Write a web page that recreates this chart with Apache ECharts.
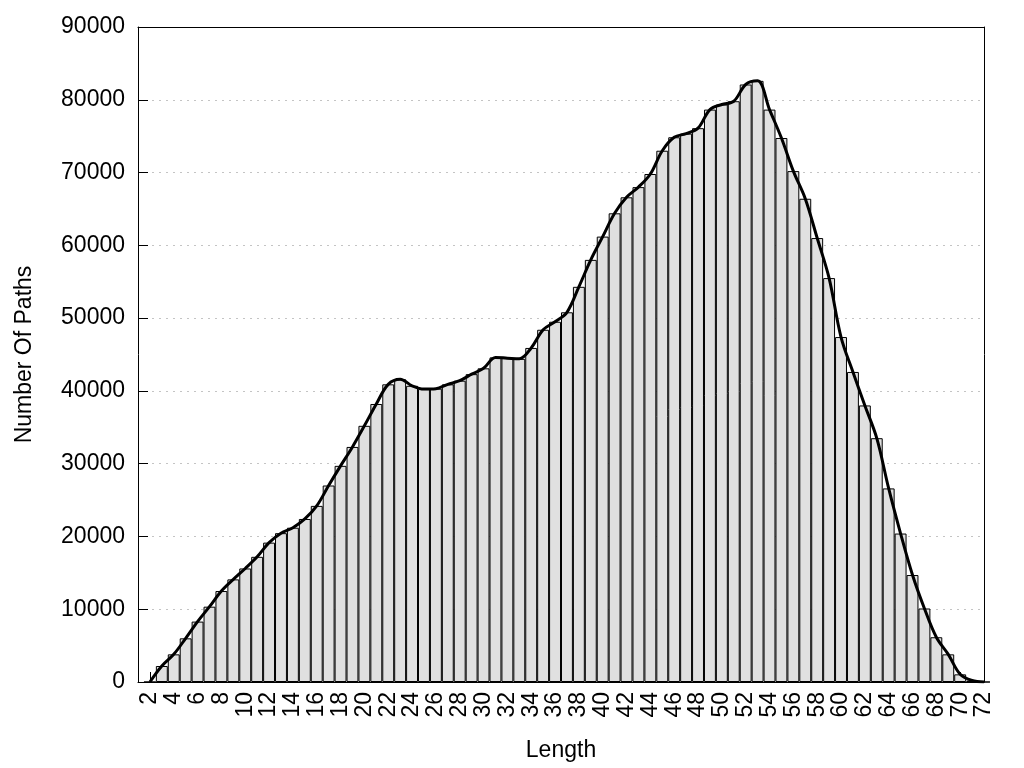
<!DOCTYPE html>
<html>
<head>
<meta charset="utf-8">
<script src="https://cdn.jsdelivr.net/npm/echarts@6/dist/echarts.min.js"></script>
<style>
  html, body { margin: 0; padding: 0; background: #fff; }
  #chart { width: 1024px; height: 768px; }
</style>
</head>
<body>
<div id="chart"></div>
<script>
// path lengths (slot 1 is empty so that 2 sits one step in from the frame)
var lengths = [
  '1', '2', '3', '4', '5', '6', '7', '8', '9', '10', '11', '12',
  '13', '14', '15', '16', '17', '18', '19', '20', '21', '22', '23', '24',
  '25', '26', '27', '28', '29', '30', '31', '32', '33', '34', '35', '36',
  '37', '38', '39', '40', '41', '42', '43', '44', '45', '46', '47', '48',
  '49', '50', '51', '52', '53', '54', '55', '56', '57', '58', '59', '60',
  '61', '62', '63', '64', '65', '66', '67', '68', '69', '70', '71', '72'
]
var pathCounts = [
  null, 0, 2200, 3800, 6000, 8300, 10350, 12500, 14100, 15600, 17200, 19150,
  20450, 21200, 22400, 24200, 27000, 29700, 32300, 35200, 38200, 40900, 41600, 40700,
  40250, 40300, 40900, 41400, 42300, 43100, 44600, 44500, 44400, 45900, 48400, 49500,
  50800, 54300, 58000, 61200, 64400, 66600, 68000, 69800, 73000, 74850, 75350, 76100,
  78650, 79350, 79800, 82100, 82600, 78650, 74750, 70200, 66400, 61000, 55500, 47400,
  42600, 38000, 33500, 26600, 20400, 14700, 10100, 6150, 3800, 1050, 200, 0
]
var yTicks = { min: 0, max: 90000, step: 10000 }

var FONT = "'Liberation Sans', Arial, sans-serif"

function evenOnly(idx, val) {
  return Number(val) % 2 === 0
}

var chart = echarts.init(document.getElementById('chart'))
var options = {
  animation: false,
  backgroundColor: '#fff',
  textStyle: { fontFamily: FONT },
  grid: {
    left: 138,
    right: 40,
    top: 27,
    bottom: 86
  },
  xAxis: [
    {
      type: 'category',
      data: lengths,
      boundaryGap: false,
      name: 'Length',
      nameLocation: 'middle',
      nameGap: 57,
      nameTextStyle: { color: '#000', fontSize: 23, fontFamily: FONT },
      axisLine: { lineStyle: { color: '#000', width: 1 } },
      axisTick: { inside: true, length: 10, interval: evenOnly, lineStyle: { color: '#000' } },
      axisLabel: {
        interval: evenOnly,
        rotate: 90,
        margin: 10,
        color: '#000',
        fontSize: 23,
        fontFamily: FONT
      },
      splitLine: { show: false }
    },
    {
      // top edge of the frame
      type: 'category',
      data: lengths,
      boundaryGap: false,
      position: 'top',
      z: 5,
      axisLine: { show: true, onZero: false, lineStyle: { color: '#000', width: 1 } },
      axisTick: { show: false },
      axisLabel: { show: false },
      splitLine: { show: false }
    }
  ],
  yAxis: [
    {
      type: 'value',
      min: yTicks.min,
      max: yTicks.max,
      interval: yTicks.step,
      name: 'Number Of Paths',
      nameLocation: 'middle',
      nameRotate: 90,
      nameGap: 102,
      nameTextStyle: { color: '#000', fontSize: 23, fontFamily: FONT },
      axisLine: { show: true, lineStyle: { color: '#000', width: 1 } },
      axisTick: { show: true, inside: true, length: 10, lineStyle: { color: '#000' } },
      axisLabel: {
        color: '#000',
        fontSize: 23,
        margin: 13,
        fontFamily: FONT,
        formatter: function (v) { return String(v) }
      },
      splitLine: { show: true, lineStyle: { color: '#c4c4c4', type: [2, 5], width: 1 } }
    },
    {
      // right edge of the frame
      type: 'value',
      min: yTicks.min,
      max: yTicks.max,
      interval: yTicks.step,
      position: 'right',
      z: 5,
      axisLine: { show: true, onZero: false, lineStyle: { color: '#000', width: 1 } },
      axisTick: { show: false },
      axisLabel: { show: false },
      splitLine: { show: false }
    }
  ],
  series: [
    {
      name: 'bars',
      type: 'bar',
      data: pathCounts,
      barWidth: '100%',
      itemStyle: { color: '#e0e0e0', borderColor: '#000', borderWidth: 1 },
      z: 2
    },
    {
      name: 'curve',
      type: 'line',
      data: pathCounts,
      smooth: 0.35,
      showSymbol: false,
      symbol: 'none',
      lineStyle: { color: '#000', width: 3 },
      z: 3
    }
  ]
}
chart.setOption(options)
</script>
</body>
</html>
